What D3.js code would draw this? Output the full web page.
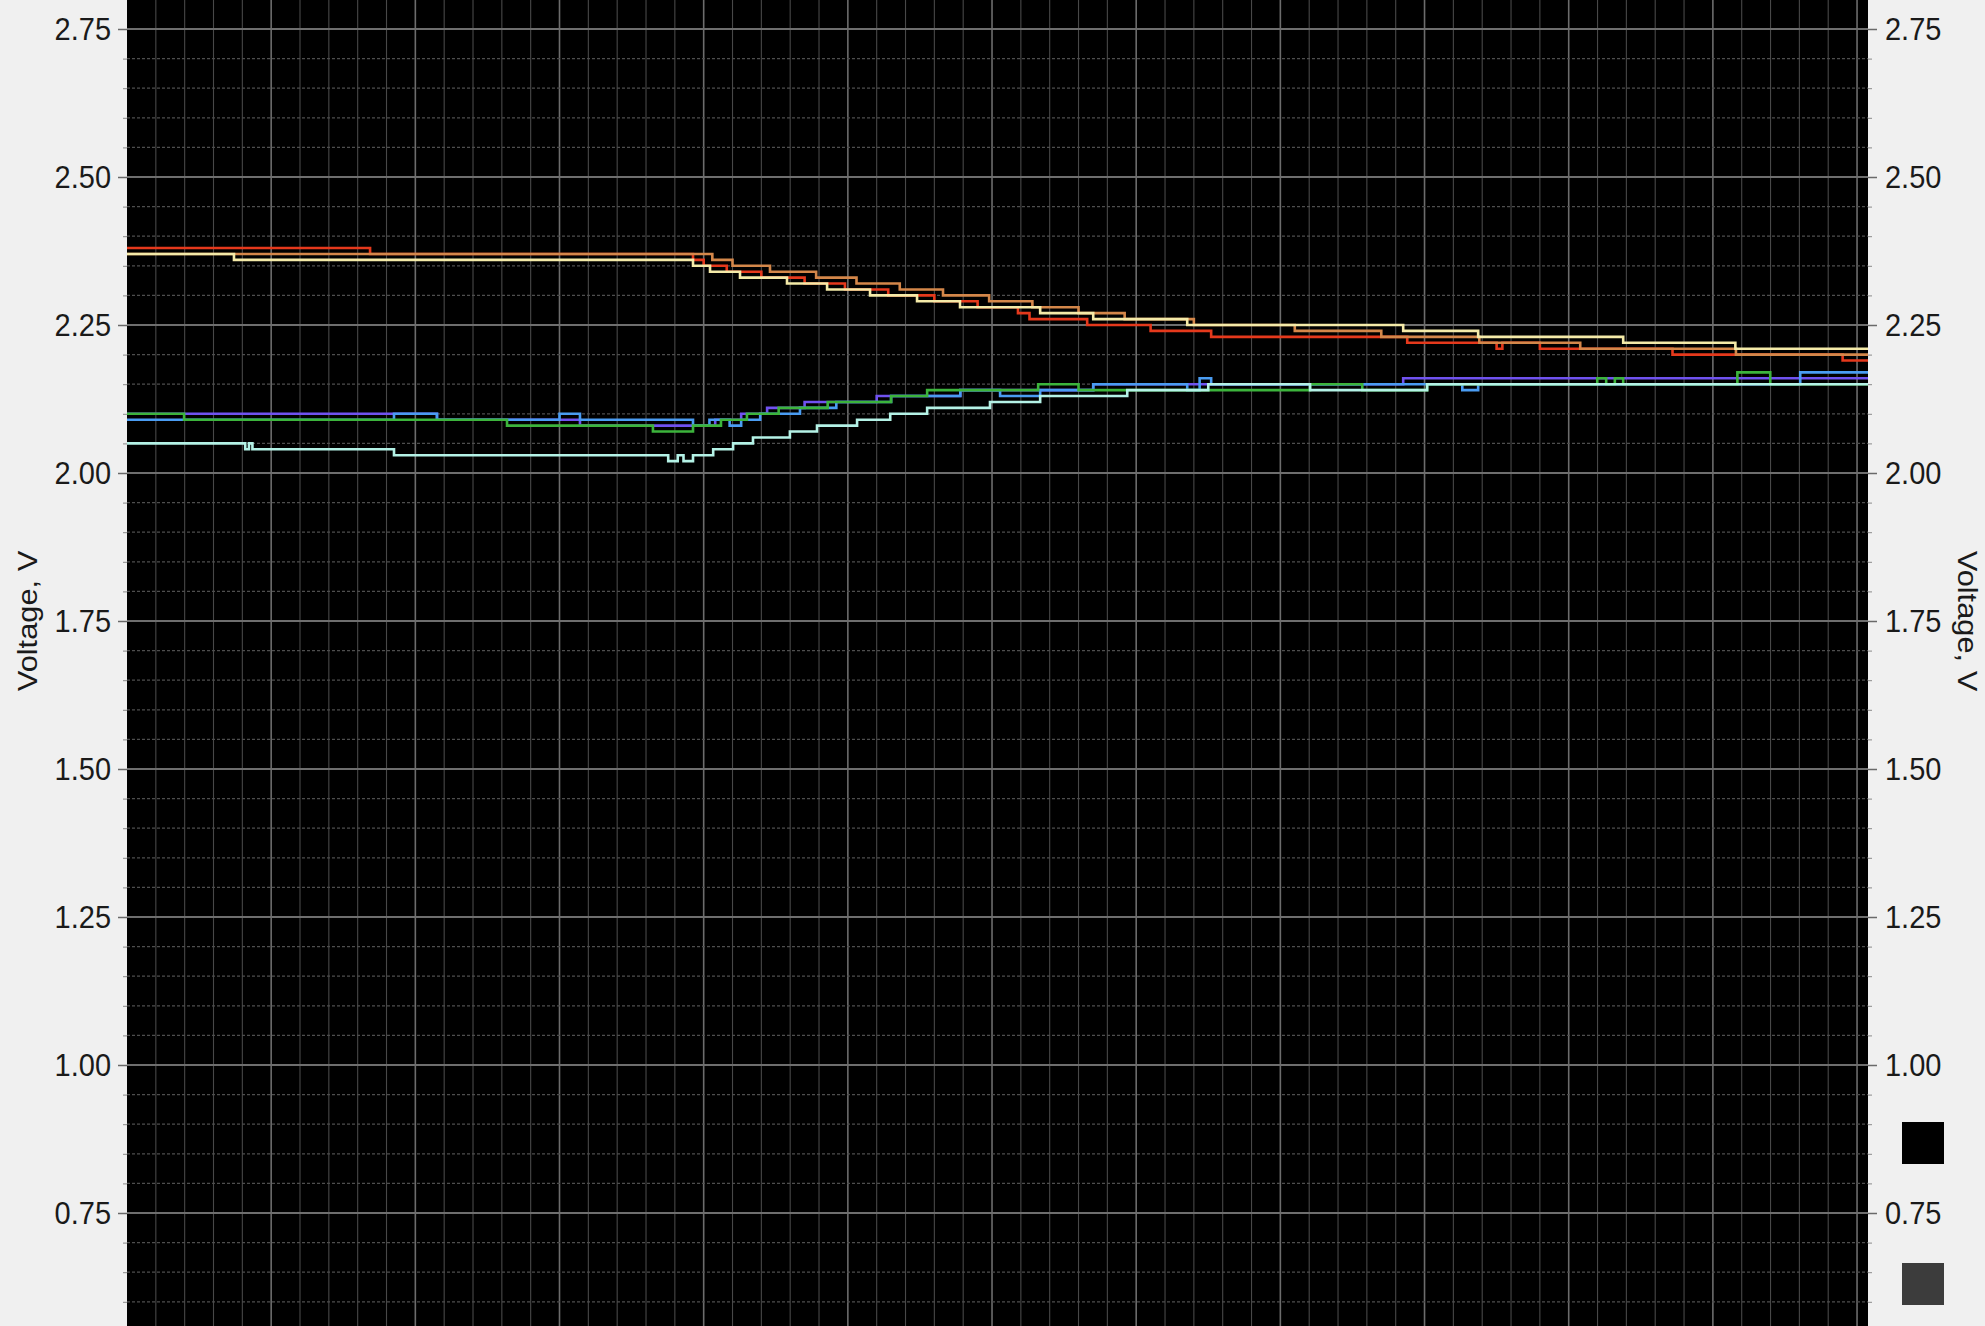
<!DOCTYPE html>
<html>
<head>
<meta charset="utf-8">
<script src="https://cdn.jsdelivr.net/npm/d3@7/dist/d3.min.js"></script>
<style>
  html, body { margin: 0; padding: 0; background: #f0f0f0; }
  svg { display: block; }
  text { font-family: "Liberation Sans", Arial, sans-serif; fill: #1a1a1a; }
</style>
</head>
<body>
<svg id="chart" width="1985" height="1326"></svg>
<script>
// Cell voltage logs (time in minutes, voltage in volts), stored as step change points.
const cellRed = [[0,2.38],[8.43,2.37],[19.63,2.36],[20.0,2.35],[20.8,2.34],[22.0,2.33],[23.5,2.32],[24.9,2.31],[26.4,2.30],[28.0,2.29],[29.5,2.28],[30.9,2.27],[31.3,2.26],[33.3,2.25],[35.5,2.24],[37.6,2.23],[44.4,2.22],[47.5,2.21],[47.7,2.22],[49.0,2.21],[53.6,2.20],[59.5,2.19]];
const cellOrange = [[0,2.37],[20.3,2.36],[21.0,2.35],[22.3,2.34],[23.9,2.33],[25.3,2.32],[26.8,2.31],[28.3,2.30],[29.9,2.29],[31.4,2.28],[33.0,2.27],[34.6,2.26],[37.0,2.25],[40.5,2.24],[43.5,2.23],[46.9,2.22],[50.4,2.21],[55.8,2.20]];
const cellCream = [[0,2.37],[3.71,2.36],[19.63,2.35],[20.22,2.34],[21.26,2.33],[22.89,2.32],[24.28,2.31],[25.77,2.30],[27.40,2.29],[28.89,2.28],[31.67,2.27],[33.51,2.26],[36.77,2.25],[44.26,2.24],[46.86,2.23],[51.89,2.22],[55.78,2.21]];
const cellPurple = [[0,2.10],[10.75,2.09],[15.71,2.08],[20.4,2.09],[21.3,2.10],[22.2,2.11],[23.5,2.12],[26.0,2.13],[28.9,2.14],[33.51,2.15],[44.26,2.16]];
const cellBlue = [[0,2.09],[9.26,2.10],[10.75,2.09],[15.0,2.10],[15.71,2.09],[19.63,2.08],[20.2,2.09],[20.9,2.08],[21.3,2.09],[21.96,2.10],[23.34,2.11],[24.6,2.12],[26.5,2.13],[28.9,2.14],[30.28,2.13],[31.67,2.14],[33.51,2.15],[36.77,2.14],[37.2,2.16],[37.6,2.15],[46.31,2.14],[46.86,2.15],[58.03,2.17]];
const cellGreen = [[0,2.10],[1.98,2.09],[13.18,2.08],[18.24,2.07],[19.63,2.08],[20.6,2.09],[21.5,2.10],[22.6,2.11],[24.3,2.12],[26.5,2.13],[27.75,2.14],[31.6,2.15],[33.0,2.14],[41.03,2.15],[42.84,2.14],[45.09,2.15],[50.99,2.16],[51.3,2.15],[51.6,2.16],[51.89,2.15],[55.85,2.17],[56.99,2.15]];
const cellCyan = [[0,2.05],[4.1,2.04],[4.23,2.05],[4.35,2.04],[9.26,2.03],[18.77,2.02],[19.1,2.03],[19.3,2.02],[19.63,2.03],[20.33,2.04],[21.02,2.05],[21.71,2.06],[22.99,2.07],[23.93,2.08],[25.32,2.09],[26.47,2.10],[27.75,2.11],[29.93,2.12],[31.67,2.13],[34.69,2.14],[37.5,2.15],[41.03,2.14],[45.09,2.15]];

const seriesNames  = ["red", "orange", "cream", "purple", "blue", "green", "cyan"];
const seriesData   = [cellRed, cellOrange, cellCream, cellPurple, cellBlue, cellGreen, cellCyan];
const seriesColors = ["#e5391c", "#d4874a", "#f4eaa8", "#7052f0", "#4a9cf2", "#3cb43c", "#b4f2e6"];

// Voltage ticks and the legend swatches shown at the lower right
const voltTicks = [0.75, 1.00, 1.25, 1.50, 1.75, 2.00, 2.25, 2.50, 2.75];
const legendColors = ["#000000", "#3c3c3c"];
const axisTitle = "Voltage, V";

const tMax = 60.38;
const W = 1985, H = 1326;
const plotLeft = 127, plotRight = 1868;

const svg = d3.select("#chart");
const x = d3.scaleLinear().domain([0, tMax]).range([plotLeft, plotRight]);
const y = d3.scaleLinear().domain([0.75, 2.75]).range([1213, 29]);

// plot background
svg.append("rect")
  .attr("x", plotLeft).attr("y", 0)
  .attr("width", plotRight - plotLeft).attr("height", H)
  .attr("fill", "#000");

svg.append("clipPath").attr("id", "plotClip")
  .append("rect")
  .attr("x", plotLeft).attr("y", 0)
  .attr("width", plotRight - plotLeft).attr("height", H);

const grid = svg.append("g").attr("clip-path", "url(#plotClip)");

// vertical grid: one line per minute, brighter every five
const minuteLines = d3.range(1, Math.floor(tMax) + 1);
grid.selectAll("line.vgrid").data(minuteLines).join("line")
  .attr("x1", d => x(d)).attr("x2", d => x(d))
  .attr("y1", 0).attr("y2", H)
  .attr("stroke", d => d % 5 === 0 ? "#6c6c6c" : "#484848")
  .attr("stroke-width", d => d % 5 === 0 ? 1.6 : 1.1);

// horizontal grid: 0.05 V dotted, 0.25 V solid
const vLo = y.invert(H), vHi = y.invert(0);
const hundredths = d3.range(Math.ceil(vLo / 0.05), Math.floor(vHi / 0.05) + 1);
grid.selectAll("line.hgrid").data(hundredths).join("line")
  .attr("x1", plotLeft).attr("x2", plotRight)
  .attr("y1", d => y(d * 0.05)).attr("y2", d => y(d * 0.05))
  .attr("stroke", d => d % 5 === 0 ? "#6e6e6e" : "#4e4e4e")
  .attr("stroke-width", d => d % 5 === 0 ? 1.8 : 1.2)
  .attr("stroke-dasharray", d => d % 5 === 0 ? null : "3,2");

// series lines
const line = d3.line()
  .x(d => x(d[0]))
  .y(d => y(d[1]))
  .curve(d3.curveStepAfter);

const lines = svg.append("g").attr("clip-path", "url(#plotClip)");
seriesData.forEach((pts, i) => {
  const full = pts.concat([[tMax, pts[pts.length - 1][1]]]);
  lines.append("path")
    .attr("class", "cell-" + seriesNames[i])
    .attr("d", line(full))
    .attr("fill", "none")
    .attr("stroke", seriesColors[i])
    .attr("stroke-width", 2.6)
    .attr("stroke-linejoin", "miter");
});

// axes on both sides
const fmt = d3.format(".2f");
const minorTicks = hundredths.filter(d => d % 5 !== 0).map(d => d * 0.05);

function styleAxis(g) {
  g.select(".domain").remove();
  g.selectAll(".tick line").attr("stroke", "#6a6a6a").attr("stroke-width", 1.5);
  g.selectAll(".tick text")
    .attr("font-size", 29)
    .attr("fill", "#1a1a1a")
    .attr("transform", "scale(1,1.1)");
}

svg.append("g")
  .attr("transform", `translate(${plotLeft},0)`)
  .call(d3.axisLeft(y).tickValues(voltTicks).tickFormat(fmt).tickSize(9).tickPadding(7))
  .call(styleAxis);

svg.append("g")
  .attr("transform", `translate(${plotRight},0)`)
  .call(d3.axisRight(y).tickValues(voltTicks).tickFormat(fmt).tickSize(9).tickPadding(8))
  .call(styleAxis);

svg.append("g").attr("transform", `translate(${plotLeft},0)`)
  .call(d3.axisLeft(y).tickValues(minorTicks).tickFormat("").tickSize(4))
  .call(g => { g.select(".domain").remove(); g.selectAll(".tick line").attr("stroke", "#8a8a8a"); });
svg.append("g").attr("transform", `translate(${plotRight},0)`)
  .call(d3.axisRight(y).tickValues(minorTicks).tickFormat("").tickSize(4))
  .call(g => { g.select(".domain").remove(); g.selectAll(".tick line").attr("stroke", "#8a8a8a"); });

// axis titles, centred on the 1.75 V level
const midY = y(voltTicks[4]);
svg.append("text")
  .attr("transform", `translate(37,${midY}) rotate(-90) scale(1.1,1)`)
  .attr("text-anchor", "middle")
  .attr("font-size", 28)
  .text(axisTitle);
svg.append("text")
  .attr("transform", `translate(1958,${midY}) rotate(90) scale(1.1,1)`)
  .attr("text-anchor", "middle")
  .attr("font-size", 28)
  .text(axisTitle);

// legend swatches
const legendY = d3.scaleOrdinal().domain(legendColors).range([1122, 1263]);
svg.selectAll("rect.legend").data(legendColors).join("rect")
  .attr("class", "legend")
  .attr("x", 1902).attr("y", d => legendY(d))
  .attr("width", 42).attr("height", 42)
  .attr("fill", d => d);
</script>
</body>
</html>
